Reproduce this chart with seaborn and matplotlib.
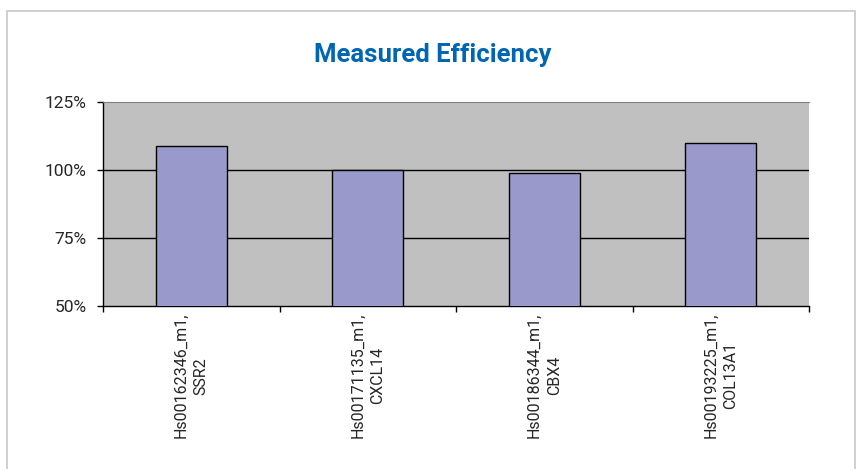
import matplotlib
matplotlib.use('Agg')
import matplotlib.pyplot as plt
import seaborn as sns
from matplotlib.patches import Rectangle
from matplotlib.ticker import FuncFormatter

# dane
assays = ['Hs00162346_m1,\nSSR2', 'Hs00171135_m1,\nCXCL14',
          'Hs00186344_m1,\nCBX4', 'Hs00193225_m1,\nCOL13A1']
efficiency = [109, 100, 99, 110]
y_ticks = [50, 75, 100, 125]

sns.set_style('white')
plt.rcParams['font.family'] = ['Roboto', 'DejaVu Sans']

fig = plt.figure(figsize=(8.58, 4.69), dpi=100)
ax = fig.add_axes([103 / 858, 1 - 306 / 469, 706 / 858, 204 / 469])
ax.set_facecolor('#C0C0C0')

sns.barplot(x=assays, y=efficiency, color='#9999CC', saturation=1,
            edgecolor='black', linewidth=1, width=0.4, ax=ax, zorder=3)

ax.set_ylim(50, 125)
ax.set_yticks(y_ticks)
ax.yaxis.set_major_formatter(FuncFormatter(lambda v, p: f'{v:.0f}%'))
for v in [75, 100]:
    ax.axhline(v, color='black', linewidth=1, zorder=1)

# ticki na granicach kategorii
ax.set_xlim(-0.5, len(assays) - 0.5)
ax.set_xticks([i - 0.5 for i in range(len(assays) + 1)], minor=True)
ax.set_xticks(range(len(assays)))
ax.set_xticklabels(assays, rotation=90, va='top', ha='center',
                   multialignment='center', fontsize=11.5, linespacing=1.4)
ax.tick_params(axis='x', which='major', bottom=False, length=0, pad=5)
ax.tick_params(axis='x', which='minor', bottom=True, length=4, width=1,
               color='black', direction='out')
ax.tick_params(axis='y', left=True, length=4, width=1, color='black',
               direction='out', labelsize=12.5, pad=8)
ax.set_xlabel('')
ax.set_ylabel('')

for s in ['left', 'bottom']:
    ax.spines[s].set_color('black')
    ax.spines[s].set_linewidth(1)
ax.spines['top'].set_color('#808080')
ax.spines['right'].set_visible(False)

fig.text(433 / 858, 1 - 55 / 469, 'Measured Efficiency', ha='center', va='center',
         fontsize=18.5, fontweight='bold', color='#0066B3')

# ramka wokół wykresu
fig.patches.append(Rectangle((7 / 858, -0.01), 848 / 858, 1 - 11 / 469 + 0.01,
                             transform=fig.transFigure, fill=False,
                             edgecolor='#C8C8C8', linewidth=1.2))

fig.savefig('out.png', dpi=100)
